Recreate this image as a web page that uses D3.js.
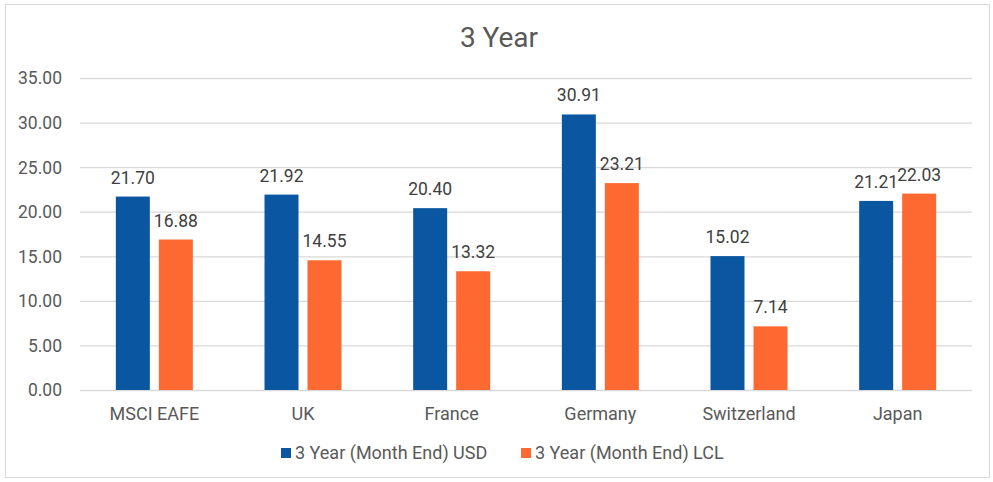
<!DOCTYPE html>
<html>
<head>
<meta charset="utf-8">
<script src="https://cdn.jsdelivr.net/npm/d3@7"></script>
<style>
  html, body { margin: 0; padding: 0; background: #fff; }
  svg { display: block; font-family: Roboto, "Noto Sans", sans-serif; }
</style>
</head>
<body>
<svg></svg>
<script>
const categories = ['MSCI EAFE', 'UK', 'France', 'Germany', 'Switzerland', 'Japan'];
const usdValues = [21.70, 21.92, 20.40, 30.91, 15.02, 21.21];
const lclValues = [16.88, 14.55, 13.32, 23.21, 7.14, 22.03];
const seriesNames = ['3 Year (Month End) USD', '3 Year (Month End) LCL'];
const yTicks = [0, 5, 10, 15, 20, 25, 30, 35];

const width = 993;
const height = 482;
const margin = { left: 80, top: 78, right: 21, bottom: 92 };
const innerWidth = width - margin.left - margin.right;
const innerHeight = height - margin.top - margin.bottom;

const colors = ['#0b56a1', '#fe6831'];
const textColor = '#595959';

const svg = d3.select('svg').attr('width', width).attr('height', height);

// chart border
svg.append('rect')
  .attr('x', 5.5).attr('y', 4.5)
  .attr('width', 984).attr('height', 473)
  .attr('fill', '#fff')
  .attr('stroke', '#d9d9d9');

svg.append('text')
  .attr('x', 499).attr('y', 46.5)
  .attr('text-anchor', 'middle')
  .attr('font-size', 28)
  .attr('fill', textColor)
  .text('3 Year');

const g = svg.append('g').attr('transform', `translate(${margin.left}, ${margin.top})`);

const x = d3.scaleBand().domain(categories).range([0, innerWidth]);
const y = d3.scaleLinear().domain([0, 35]).range([innerHeight, 0]);

// gridlines + y labels
const yAxis = g.append('g')
  .call(d3.axisLeft(y).tickValues(yTicks).tickSize(-innerWidth).tickFormat(d3.format('.2f')));
yAxis.select('.domain').remove();
yAxis.selectAll('line').attr('stroke', '#d9d9d9').attr('stroke-width', 1.3);
yAxis.selectAll('text')
  .attr('x', -18)
  .attr('dy', '0.34em')
  .attr('font-size', 17.5)
  .attr('font-family', 'Roboto, sans-serif')
  .attr('fill', textColor);

// category labels
const xAxis = g.append('g')
  .attr('transform', `translate(0, ${innerHeight})`)
  .call(d3.axisBottom(x).tickSize(0));
xAxis.select('.domain').remove();
xAxis.selectAll('text')
  .attr('dy', 0)
  .attr('y', 29.5)
  .attr('font-size', 18)
  .attr('font-family', 'Roboto, sans-serif')
  .attr('fill', textColor);

const barW = 34;
const gap = 9;
const series = [usdValues, lclValues];

series.forEach((vals, si) => {
  const offset = si === 0 ? -gap / 2 - barW : gap / 2;
  const bars = g.append('g');
  bars.selectAll('rect')
    .data(vals)
    .enter()
    .append('rect')
    .attr('x', (d, i) => x(categories[i]) + x.bandwidth() / 2 + offset)
    .attr('y', (d) => y(d))
    .attr('width', barW)
    .attr('height', (d) => innerHeight - y(d))
    .attr('fill', colors[si]);

  bars.selectAll('text')
    .data(vals)
    .enter()
    .append('text')
    .attr('x', (d, i) => x(categories[i]) + x.bandwidth() / 2 + offset + barW / 2)
    .attr('y', (d) => y(d) - 13)
    .attr('text-anchor', 'middle')
    .attr('font-size', 17.5)
    .attr('fill', '#404040')
    .text((d) => d.toFixed(2));
});

// legend
const legendPos = [281, 521];
const legend = svg.append('g');
seriesNames.forEach((name, i) => {
  legend.append('rect')
    .attr('x', legendPos[i]).attr('y', 448)
    .attr('width', 10).attr('height', 10)
    .attr('fill', colors[i]);
  legend.append('text')
    .attr('x', legendPos[i] + 14).attr('y', 458.5)
    .attr('font-size', 18)
    .attr('fill', textColor)
    .text(name);
});
</script>
</body>
</html>
